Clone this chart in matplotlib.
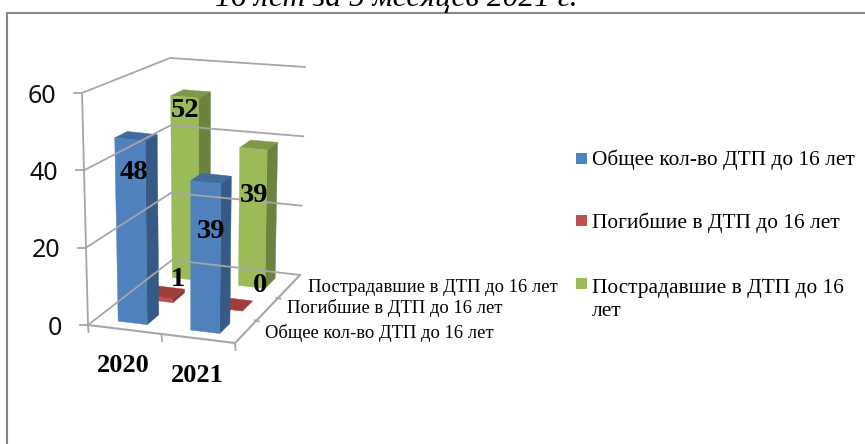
import matplotlib
matplotlib.use('Agg')
import matplotlib.pyplot as plt
from matplotlib.patches import Polygon, Rectangle

years = ['2020', '2021']
series_names = ['Общее кол-во ДТП до 16 лет', 'Погибшие в ДТП до 16 лет', 'Пострадавшие в ДТП до 16 лет']
total_dtp = [48, 39]
killed = [1, 0]
injured = [52, 39]
z_ticks = [0, 20, 40, 60]

series_values = [total_dtp, killed, injured]
front_colors = ['#4F81BD', '#C0504D', '#9BBB59']
side_colors = ['#355A86', '#8E3634', '#6B833E']
top_colors = ['#3F6B9F', '#9E3D3A', '#7C9848']
grid_color = '#A6A6A6'
serif = 'Liberation Serif'

# pixel corners of the chart box: floor (z=0) and ceiling (z=60)
floor = [(88, 325), (235, 343), (300, 275), (172, 260)]
ceil = [(82, 93), (238, 110), (305, 67), (170, 58)]
z_max = 60.0


def mix(a, b, t):
    return (a[0] + (b[0] - a[0]) * t, a[1] + (b[1] - a[1]) * t)


def project(u, v, z):
    # u along the years, v into the depth, z the value
    low = mix(mix(floor[0], floor[1], u), mix(floor[3], floor[2], u), v)
    high = mix(mix(ceil[0], ceil[1], u), mix(ceil[3], ceil[2], u), v)
    return mix(low, high, z / z_max)


fig = plt.figure(figsize=(8.65, 4.44), dpi=100)
ax = fig.add_axes([0, 0, 1, 1])
ax.set_xlim(0, 865)
ax.set_ylim(444, 0)
ax.axis('off')

# chart frame, only left and top are in the crop
ax.plot([7, 7, 865], [444, 13, 13], color='#868686', lw=1.5, solid_joinstyle='miter')

# the title is cut by the top edge in the reference too
ax.text(396, 6, '16 лет за 5 месяцев 2021 г.', family=serif, style='italic', fontsize=22.7,
        ha='center', va='baseline', clip_on=True)

# walls
for z in z_ticks:
    a, d, c = project(0, 0, z), project(0, 1, z), project(1, 1, z)
    ax.plot([a[0], d[0], c[0]], [a[1], d[1], c[1]], color=grid_color, lw=1.3)
    ax.plot([a[0] - 8, a[0]], [a[1], a[1]], color=grid_color, lw=1.3)
    ax.text(a[0] - 25.5, a[1] + 3, str(z), fontsize=18, family='Noto Sans', ha='right', va='center', color='#111111')

p0, p1 = project(0, 0, 0), project(0, 0, 60)
ax.plot([p0[0], p1[0]], [p0[1], p1[1]], color=grid_color, lw=1.3)

# floor edges
corners = [project(0, 0, 0), project(1, 0, 0), project(1, 1, 0)]
ax.plot([c[0] for c in corners], [c[1] for c in corners], color=grid_color, lw=1.5)
for u in [0, 0.5, 1]:
    p = project(u, 0, 0)
    ax.plot([p[0], p[0] + 0.5], [p[1], p[1] + 7], color=grid_color, lw=1.3)
for v in [1 / 3, 2 / 3]:
    p = project(1, v, 0)
    ax.plot([p[0] - 2, p[0] + 2], [p[1], p[1] + 1], color=grid_color, lw=1.3)


def draw_bar(u0, u1, v0, v1, value, s):
    fl, fr = project(u0, v0, 0), project(u1, v0, 0)
    br = project(u1, v1, 0)
    tfl, tfr = project(u0, v0, value), project(u1, v0, value)
    tbl, tbr = project(u0, v1, value), project(u1, v1, value)
    ax.add_patch(Polygon([fr, br, tbr, tfr], closed=True, fc=side_colors[s], ec=side_colors[s], lw=0.3))
    ax.add_patch(Polygon([tfl, tfr, tbr, tbl], closed=True, fc=top_colors[s], ec=top_colors[s], lw=0.3))
    ax.add_patch(Polygon([fl, fr, tfr, tfl], closed=True, fc=front_colors[s], ec=front_colors[s], lw=0.3))


# back series first so the front ones cover them
for s in [2, 1, 0]:
    v0 = s / 3 + 0.1
    for i, value in enumerate(series_values[s]):
        u0 = i / 2 + 0.15
        draw_bar(u0, u0 + 0.2, v0, v0 + 0.15, value, s)

# data labels, positions picked by eye
label_pos = [[(134, 172), (211, 231)], [(178, 279), (260, 285)], [(185, 110), (254, 195)]]
for s in range(3):
    for i, value in enumerate(series_values[s]):
        x, y = label_pos[s][i]
        ax.text(x, y, str(value), family=serif, weight='bold', fontsize=20.5, ha='center', va='center', color='black')

# category labels
for year, (x, y) in zip(years, [(123, 365), (197, 375)]):
    ax.text(x, y, year, family=serif, weight='bold', fontsize=19, ha='center', va='center', color='black')

# series axis labels
for name, (x, y) in zip(series_names, [(265, 333), (287, 308), (308, 287)]):
    ax.text(x, y, name, family=serif, fontsize=13.4, ha='left', va='center', color='black')

# legend
legend_y = [158, 220, 283]
legend_base = [165, 228, 316]
legend_text = [series_names[0], series_names[1], 'Пострадавшие в ДТП до 16\nлет']
for y, base, name, color in zip(legend_y, legend_base, legend_text, front_colors):
    ax.add_patch(Rectangle((576, y - 5.5), 11, 11, fc=color, ec='none'))
    ax.text(592, base, name, family=serif, fontsize=15.4, ha='left', va='baseline', color='black', linespacing=1.3)

plt.savefig('out.png', dpi=100)
